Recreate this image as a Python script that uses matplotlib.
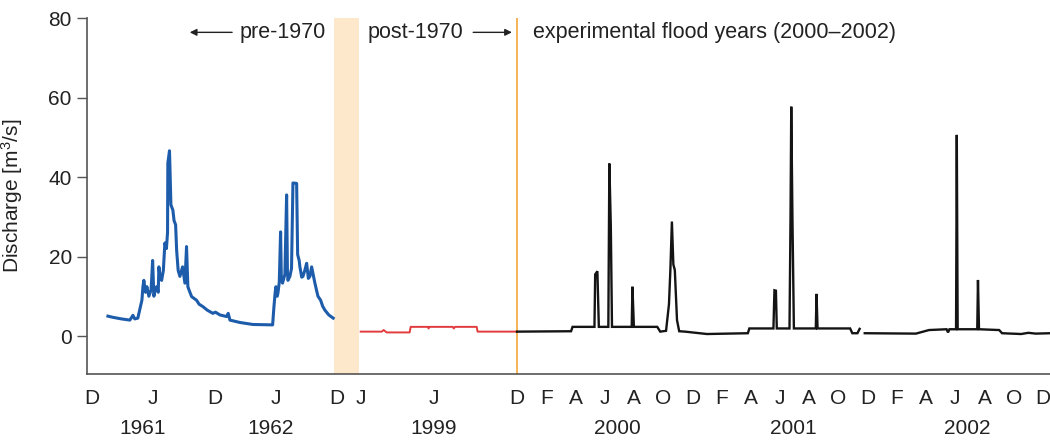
"""
Daily discharge at the gauge: pre-1970 natural regime (1961-62),
post-1970 regulated regime (1999) and the experimental flood years
(2000-2002), drawn on one compressed time axis.

Output: out.png
"""
import numpy as np
import matplotlib
matplotlib.use("Agg")
import matplotlib.pyplot as plt

plt.rcParams["font.family"] = ["Liberation Sans", "DejaVu Sans"]
plt.rcParams["mathtext.fontset"] = "custom"
plt.rcParams["mathtext.rm"] = "Liberation Sans"
plt.rcParams["mathtext.it"] = "Liberation Sans:italic"

# ------------------------------------------------------------------
# Discharge records [m3/s], time in months from each segment's start
# ------------------------------------------------------------------
# 1961-1962, months since Dec 1960
MONTHS_6162 = [1.57, 2.06, 2.9, 3.72, 4.02, 4.2, 4.5, 4.9, 5.0, 5.09, 5.25,
               5.39, 5.58, 5.8, 5.95, 6.07, 6.2, 6.34, 6.5, 6.56, 6.7, 6.83,
               7.0, 7.15, 7.3, 7.41, 7.44, 7.6, 7.65, 7.74, 7.93, 8.05, 8.2,
               8.3, 8.45, 8.62, 8.88, 9.11, 9.27, 9.4, 9.6, 9.77, 10.25,
               10.5, 10.87, 11.3, 11.85, 12.1, 12.54, 13.19, 13.35, 13.52,
               14.5, 15.77, 17.7, 17.83, 17.95, 18.02, 18.15, 18.22, 18.35,
               18.48, 18.55, 18.67, 18.9, 19.07, 19.15, 19.2, 19.39, 19.55,
               19.69, 20.05, 20.15, 20.3, 20.37, 20.55, 20.67, 20.85, 21.03,
               21.2, 21.35, 21.52, 21.84, 22.0, 22.14, 22.4, 22.6, 22.82,
               23.2, 23.63]
Q_6162 = [5.0, 4.7, 4.3, 4.0, 5.2, 4.3, 4.5, 9.0, 12.4, 14.0, 11.0,
          12.4, 10.0, 11.6, 19.0, 10.0, 11.6, 12.4, 11.0, 17.4, 14.6, 14.0,
          16.5, 23.4, 22.0, 26.0, 43.5, 46.6, 42.0, 33.0, 31.7, 29.0, 28.0,
          21.6, 16.5, 15.0, 17.4, 13.3, 22.5, 12.4, 11.0, 9.9, 9.0,
          8.0, 7.4, 6.5, 5.7, 6.0, 5.3, 4.9, 5.7, 4.0,
          3.4, 2.9, 2.8, 7.4, 11.0, 12.4, 10.0, 10.8, 13.5,
          26.2, 15.0, 13.3, 15.5, 35.5, 16.0, 14.0, 15.0, 17.0,
          38.5, 38.4, 20.5, 19.0, 17.4, 14.8, 15.0, 16.5, 18.3,
          14.5, 15.0, 17.4, 13.3, 11.5, 10.0, 9.0, 7.5, 6.5,
          5.3, 4.5]

# 1999, months since Jan 1999
MONTHS_1999 = [0.0, 1.44, 1.57, 1.78, 3.35, 3.42, 4.6, 4.65, 4.7, 6.3, 6.37,
               6.45, 7.94, 8.0, 10.7]
Q_1999 = [1.1, 1.1, 1.5, 0.9, 0.9, 2.3, 2.3, 1.9, 2.3, 2.3, 1.9,
          2.3, 2.3, 1.1, 1.1]

# 2000-2002, months since Dec 1999 (NaN = gap in record)
MONTHS_0002 = [0.0, 3.7, 3.8, 5.3, 5.35, 5.5, 5.6, 6.25, 6.32, 6.42, 6.5,
               7.85, 7.9, 8.0, 9.6, 9.8, 10.2, 10.4, 10.5, 10.6, 10.7, 10.8,
               10.95, 11.1, 11.5, 13.0, 15.8, 15.9, 17.55, 17.62, 17.72,
               17.78, 18.65, 18.72, 18.77, 18.85, 18.95, 20.45, 20.5, 20.57,
               22.8, 22.95, 23.3, 23.45, 23.6, 23.8, 27.3, 28.2, 29.4, 29.5,
               29.6, 30.05, 30.1, 30.16, 31.5, 31.55, 31.62, 33.0, 33.2,
               34.5, 35.0, 35.5, 36.5]
Q_0002 = [1.1, 1.2, 2.3, 2.3, 15.5, 16.3, 2.3, 2.3, 43.4, 27.5, 2.3,
          2.3, 12.4, 2.3, 2.3, 1.1, 1.3, 8.0, 17.0, 28.8, 18.0, 16.6,
          4.0, 1.2, 1.1, 0.5, 0.7, 1.9, 1.9, 11.5, 11.4,
          1.9, 1.9, 30.0, 57.7, 30.0, 1.9, 1.9, 10.6, 1.9,
          1.9, 0.7, 0.7, 1.8, np.nan, 0.7, 0.6, 1.5, 1.7, 0.9,
          1.7, 1.7, 50.6, 1.7, 1.7, 14.1, 1.7, 1.5, 0.7,
          0.5, 0.8, 0.6, 0.7]

# month-letter ticks and year labels for each segment
TICKS_6162 = [0, 6, 12, 18, 24]
LABELS_6162 = ["D", "J", "D", "J", "D"]
TICKS_1999 = [0, 5]
LABELS_1999 = ["J", "J"]
TICKS_0002 = list(range(0, 37, 2))
LABELS_0002 = ["D", "F", "A", "J", "A", "O"] * 3 + ["D"]

YEARS = ["1961", "1962", "1999", "2000", "2001", "2002"]
YEAR_SEGMENT = [0, 0, 1, 2, 2, 2]
YEAR_MONTH = [5.0, 17.5, 5.0, 6.9, 18.9, 30.8]

# placement of each segment on the shared axis (offset, months -> axis units)
SEGMENTS = [(-29.1, 0.699), (-10.7, 1.0), (0.0, 1.0)]

BLUE = "#1d5cab"
RED = "#e23b3e"
BLACK = "#141414"
BAND = "#fde8cc"
ORANGE = "#f6a738"
SPINE = "#555555"
TEXT = "#222222"


def to_axis(seg, months):
    x0, k = SEGMENTS[seg]
    return x0 + k * np.asarray(months, dtype=float)


fig = plt.figure(figsize=(10.5, 4.4), dpi=100)
ax = fig.add_axes([0.0829, 0.15, 0.9171, 0.809])

# gap between the historic and the recent record
ax.axvspan(-12.53, -10.81, color=BAND, lw=0, zorder=0)
ax.axvline(0.0, color=ORANGE, lw=1.2, zorder=1)

ax.plot(to_axis(0, MONTHS_6162), Q_6162, color=BLUE, lw=2.2,
        solid_joinstyle="round", zorder=3)
ax.plot(to_axis(1, MONTHS_1999), Q_1999, color=RED, lw=1.4, zorder=3)
ax.plot(to_axis(2, MONTHS_0002), Q_0002, color=BLACK, lw=1.7,
        solid_joinstyle="miter", zorder=3)

ax.set_xlim(-29.43, 36.48)
ax.set_ylim(-9.56, 80)

# y axis
ax.set_yticks([0, 20, 40, 60, 80])
ax.tick_params(axis="y", length=7, width=1, color=SPINE, pad=4,
               labelsize=15, labelcolor=TEXT)
ax.set_ylabel("Discharge [m$^3$/s]", fontsize=15, color=TEXT)
ax.yaxis.set_label_coords(-0.064, 0.5)

# x axis: month letters, then years underneath
ticks = np.concatenate([to_axis(0, TICKS_6162), to_axis(1, TICKS_1999),
                        to_axis(2, TICKS_0002)])
ax.set_xticks(ticks)
ax.set_xticklabels(LABELS_6162 + LABELS_1999 + LABELS_0002)
ax.tick_params(axis="x", length=0, pad=11, labelsize=15, labelcolor=TEXT)
for year, seg, m in zip(YEARS, YEAR_SEGMENT, YEAR_MONTH):
    ax.text(float(to_axis(seg, m)), -0.152, year, ha="center", va="center",
            fontsize=15, color=TEXT, transform=ax.get_xaxis_transform())

for side in ("top", "right"):
    ax.spines[side].set_visible(False)
for side in ("left", "bottom"):
    ax.spines[side].set_color(SPINE)
    ax.spines[side].set_linewidth(1.2)

# period annotations along the top
arrow = dict(arrowstyle="-|>", color=TEXT, lw=1.0,
             mutation_scale=10, shrinkA=0, shrinkB=0)
ax.annotate("", xy=(-22.4, 76.4), xytext=(-19.5, 76.4), arrowprops=arrow)
ax.text(-13.1, 76.4, "pre-1970", ha="right", va="center", fontsize=15.5,
        color=TEXT)
ax.text(-10.2, 76.4, "post-1970", ha="left", va="center", fontsize=15.5,
        color=TEXT)
ax.annotate("", xy=(-0.35, 76.4), xytext=(-3.0, 76.4), arrowprops=arrow)
ax.text(1.1, 76.4, "experimental flood years (2000\u20132002)", ha="left",
        va="center", fontsize=15.5, color=TEXT)

fig.savefig("out.png", dpi=100)
plt.close(fig)
